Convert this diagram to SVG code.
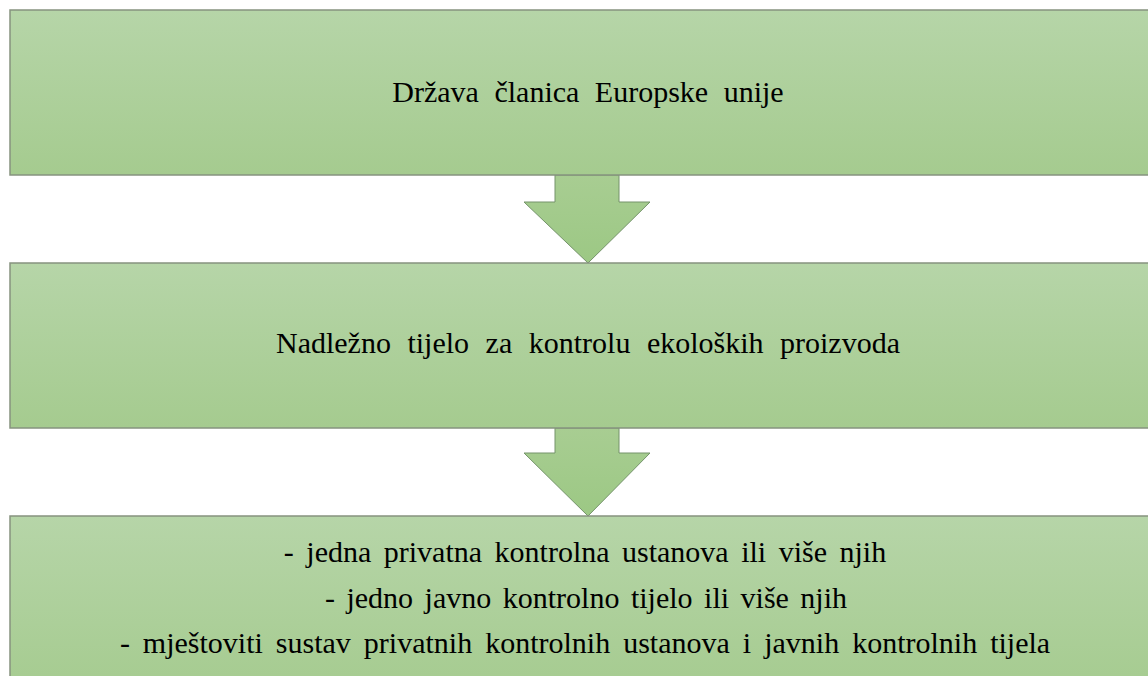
<svg xmlns="http://www.w3.org/2000/svg" width="1148" height="676" viewBox="0 0 1148 676">
<defs>
<linearGradient id="g" x1="0" y1="0" x2="0" y2="1">
<stop offset="0" stop-color="#b6d5a8"/>
<stop offset="1" stop-color="#a5cb8f"/>
</linearGradient>
<linearGradient id="ga" x1="0" y1="0" x2="0" y2="1">
<stop offset="0" stop-color="#a8cd92"/>
<stop offset="1" stop-color="#9cc884"/>
</linearGradient>
</defs>
<style>
.box{fill:url(#g);stroke:#86937f;stroke-width:1.5}
.arr{fill:url(#ga);stroke:#74936a;stroke-width:1}
.t{font-size:30px;fill:#000;text-anchor:middle}
</style>
<rect width="1148" height="676" fill="#fff"/>
<g id="connectors">
<path class="arr" d="M555,175 L619,175 L619,202 L650,202 L588,263 L524,202 L555,202 Z"/>
<path class="arr" d="M555,428 L619,428 L619,453 L650,453 L588,516 L524,453 L555,453 Z"/>
</g>
<g id="node1">
<rect class="box" x="10" y="10" width="1150" height="165"/>
<text class="t" font-family="'Liberation Serif', 'DejaVu Serif', serif" x="588" y="102" word-spacing="8">Država članica Europske unije</text>
</g>
<g id="node2">
<rect class="box" x="10" y="263" width="1150" height="165"/>
<text class="t" font-family="'Liberation Serif', 'DejaVu Serif', serif" x="588" y="353" word-spacing="9">Nadležno tijelo za kontrolu ekoloških proizvoda</text>
</g>
<g id="node3">
<rect class="box" x="10" y="516" width="1150" height="180"/>
<text class="t" font-family="'Liberation Serif', 'DejaVu Serif', serif" x="585" y="562" word-spacing="5">- jedna privatna kontrolna ustanova ili više njih</text>
<text class="t" font-family="'Liberation Serif', 'DejaVu Serif', serif" x="586" y="608" word-spacing="4">- jedno javno kontrolno tijelo ili više njih</text>
<text class="t" font-family="'Liberation Serif', 'DejaVu Serif', serif" x="585" y="653" word-spacing="5.5">- mještoviti sustav privatnih kontrolnih ustanova i javnih kontrolnih tijela</text>
</g>
</svg>
